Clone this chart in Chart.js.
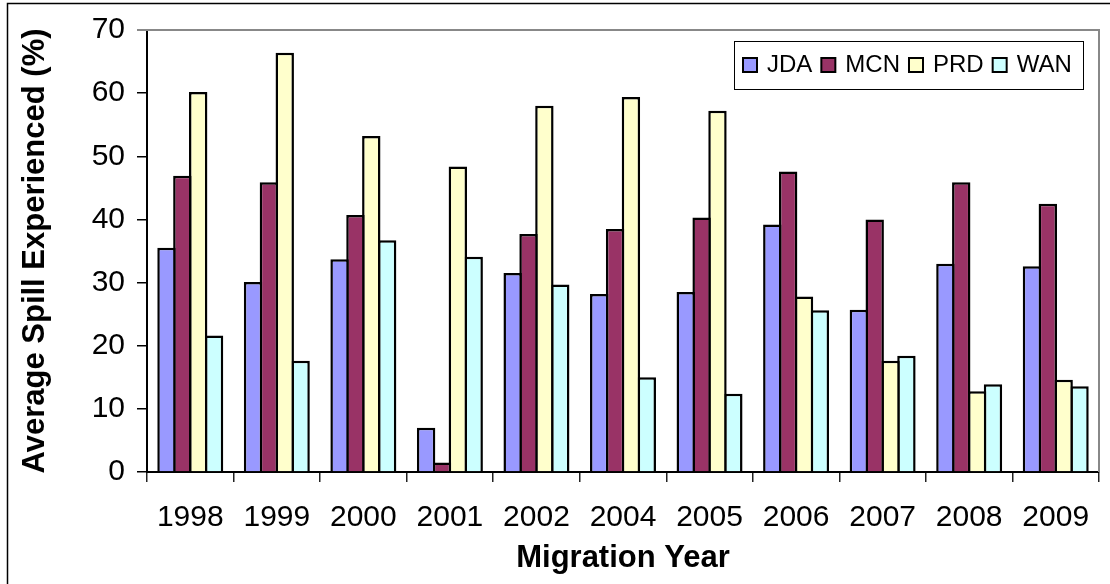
<!DOCTYPE html>
<html>
<head>
<meta charset="utf-8">
<title>Average Spill Experienced by Migration Year</title>
<script src="https://cdn.jsdelivr.net/npm/chart.js@4.4.0/dist/chart.umd.min.js"></script>
<style>
  html, body { margin: 0; padding: 0; background: #fff; }
  #wrap { width: 1110px; height: 584px; position: relative; }
</style>
</head>
<body>
<div id="wrap"><canvas id="c" width="1110" height="584"></canvas></div>
<script>
// Migration years on the category axis
const years = ['1998', '1999', '2000', '2001', '2002', '2004', '2005', '2006', '2007', '2008', '2009'];

// Average spill experienced (%) at each project
const jda = [35.5, 30.1, 33.7, 7.0, 31.5, 28.2, 28.5, 39.2, 25.7, 33.0, 32.6];
const mcn = [46.9, 45.9, 40.7, 1.5, 37.7, 38.5, 40.3, 47.6, 40.0, 45.9, 42.5];
const prd = [60.2, 66.4, 53.2, 48.4, 58.0, 59.4, 57.2, 27.8, 17.6, 12.8, 14.6];
const wan = [21.6, 17.6, 36.7, 34.1, 29.7, 15.0, 12.4, 25.6, 18.4, 13.9, 13.6];

const seriesNames = ['JDA', 'MCN', 'PRD', 'WAN'];
const seriesColors = ['#9999FF', '#993366', '#FFFFCC', '#CCFFFF'];
const yTicks = [0, 10, 20, 30, 40, 50, 60, 70];

const FONT = '"Liberation Sans", Arial, Helvetica, sans-serif';

// Outer frame, plot-area border and the boxed legend inside the plot
const decorations = {
  id: 'decorations',
  beforeDraw(chart) {
    const ctx = chart.ctx;
    ctx.save();
    ctx.fillStyle = '#fff';
    ctx.fillRect(0, 0, chart.width, chart.height);
    ctx.strokeStyle = '#000';
    ctx.lineWidth = 1.5;
    ctx.beginPath();
    ctx.moveTo(7.5, chart.height);
    ctx.lineTo(7.5, 3.5);
    ctx.lineTo(chart.width, 3.5);
    ctx.stroke();
    ctx.restore();
  },
  beforeDatasetsDraw(chart) {
    const { left, right, top, bottom } = chart.chartArea;
    const ctx = chart.ctx;
    ctx.save();
    ctx.strokeStyle = '#888';
    ctx.lineWidth = 2;
    ctx.beginPath();
    ctx.moveTo(left - 10, top);
    ctx.lineTo(right, top);
    ctx.lineTo(right, bottom);
    ctx.stroke();
    ctx.restore();
  },
  afterDraw(chart) {
    const ctx = chart.ctx;
    const box = { x: 734.5, y: 41.5, w: 349, h: 48 };
    ctx.save();
    ctx.fillStyle = '#fff';
    ctx.fillRect(box.x, box.y, box.w, box.h);
    ctx.strokeStyle = '#000';
    ctx.lineWidth = 1;
    ctx.strokeRect(box.x, box.y, box.w, box.h);

    ctx.font = '24px ' + FONT;
    ctx.textBaseline = 'middle';
    ctx.textAlign = 'left';
    let x = 743;
    const cy = 65;
    chart.data.datasets.forEach(ds => {
      ctx.fillStyle = ds.backgroundColor;
      ctx.fillRect(x, cy - 7, 14, 14);
      ctx.lineWidth = 2;
      ctx.strokeStyle = '#000';
      ctx.strokeRect(x, cy - 7, 14, 14);
      ctx.fillStyle = '#000';
      ctx.fillText(ds.label, x + 24, cy);
      x += 24 + ctx.measureText(ds.label).width + 9;
    });
    ctx.restore();
  }
};

const seriesValues = [jda, mcn, prd, wan];

new Chart(document.getElementById('c'), {
  type: 'bar',
  data: {
    labels: years,
    datasets: seriesNames.map((name, i) => ({
      label: name,
      data: seriesValues[i],
      backgroundColor: seriesColors[i],
      borderColor: '#000',
      borderWidth: 2.5,
      categoryPercentage: 0.733,
      barPercentage: 1.16
    }))
  },
  options: {
    responsive: false,
    animation: false,
    devicePixelRatio: 1,
    layout: { padding: { top: 29, right: 11, left: 0, bottom: 0 } },
    plugins: {
      legend: { display: false },
      tooltip: { enabled: false },
      title: { display: false }
    },
    scales: {
      x: {
        afterFit(s) { s.height = 112; },
        grid: {
          display: true,
          offset: true,
          drawOnChartArea: false,
          drawTicks: true,
          tickLength: 10,
          color: '#222',
          lineWidth: 1.5
        },
        border: { display: true, color: '#000', width: 2 },
        ticks: {
          color: '#000',
          font: { family: FONT, size: 30 },
          padding: 18,
          maxRotation: 0,
          autoSkip: false
        },
        title: {
          display: true,
          text: 'Migration Year',
          color: '#000',
          font: { family: FONT, size: 31, weight: 'bold' },
          padding: { top: 0, bottom: 7 }
        }
      },
      y: {
        min: 0,
        max: 70,
        afterFit(s) { s.width = 147; },
        afterBuildTicks(s) { s.ticks = yTicks.map(v => ({ value: v })); },
        grid: {
          display: true,
          drawOnChartArea: false,
          drawTicks: true,
          tickLength: 10,
          color: '#000',
          lineWidth: 1.5
        },
        border: { display: true, color: '#000', width: 2 },
        ticks: {
          color: '#000',
          font: { family: FONT, size: 30 },
          padding: 12
        },
        title: {
          display: true,
          text: 'Average Spill Experienced (%)',
          color: '#000',
          font: { family: FONT, size: 31, weight: 'bold' },
          padding: { top: 17, bottom: 0 }
        }
      }
    }
  },
  plugins: [decorations]
});
</script>
</body>
</html>
